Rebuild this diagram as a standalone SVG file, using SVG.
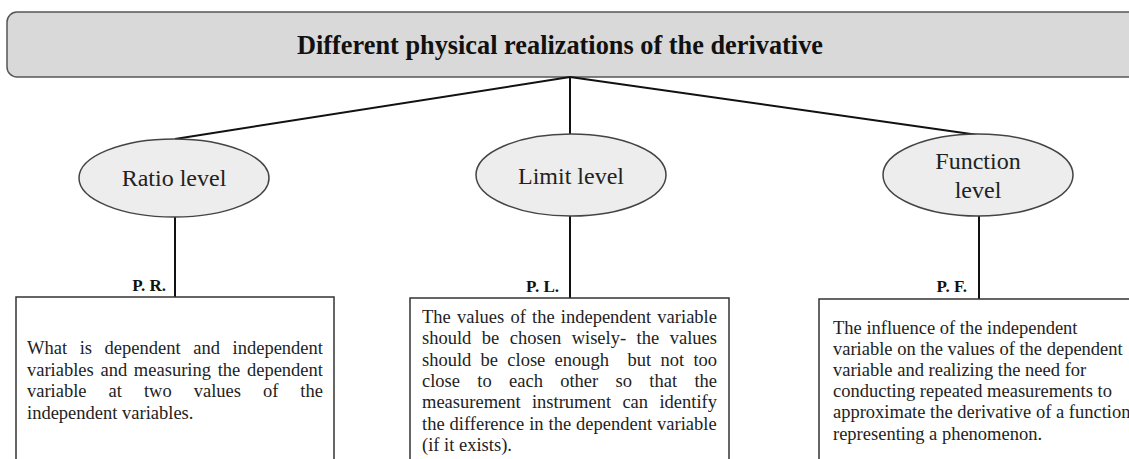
<svg xmlns="http://www.w3.org/2000/svg" width="1129" height="459" viewBox="0 0 1129 459">
<style>
.hdr{fill:#d9d9d9;stroke:#555;stroke-width:1.5}
.ell{fill:#ededed;stroke:#444;stroke-width:1.5}
.box{fill:#fff;stroke:#333;stroke-width:1.5}
.con{stroke:#111;stroke-width:2;fill:none}
.title{font-family:"Liberation Serif","Times New Roman",serif;font-weight:bold;font-size:28px;fill:#111}
.lvl{font-family:"Liberation Serif","Times New Roman",serif;font-size:24px;fill:#222;text-anchor:middle}
.lab{font-family:"Liberation Serif","Times New Roman",serif;font-weight:bold;font-size:17px;fill:#111;text-anchor:end}
.txt{font-family:"Liberation Serif","Times New Roman",serif;font-size:18.5px;fill:#222}
</style>
<rect width="1129" height="459" fill="#fff"/>
<g id="header">
<rect class="hdr" x="7" y="12" width="1140" height="65" rx="10"/>
<text class="title" x="297" y="54" textLength="526" lengthAdjust="spacingAndGlyphs">Different physical realizations of the derivative</text>
</g>
<g id="connectors">
<path class="con" d="M570 77 L175 139 M570 77 L570 134 M570 77 L978 135"/>
<path class="con" d="M175 217 V297 M570 216 V298 M979 216 V299"/>
</g>
<g id="ratio-level">
<ellipse class="ell" cx="174" cy="178" rx="95" ry="39"/>
<text class="lvl" x="174" y="186">Ratio level</text>
</g>
<g id="limit-level">
<ellipse class="ell" cx="571" cy="175" rx="95" ry="41"/>
<text class="lvl" x="571" y="184">Limit level</text>
</g>
<g id="function-level">
<ellipse class="ell" cx="978" cy="175" rx="95" ry="41"/>
<text class="lvl" x="978" y="169">Function</text>
<text class="lvl" x="978" y="198">level</text>
</g>
<g id="pr-box">
<text class="lab" x="166" y="291">P. R.</text>
<rect class="box" x="16" y="297" width="318" height="180"/>
<text class="txt" x="27" y="354" style="word-spacing:7.98px">What is dependent and independent</text>
<text class="txt" x="27" y="376" style="word-spacing:2.07px">variables and measuring the dependent</text>
<text class="txt" x="27" y="397" style="word-spacing:17.38px">variable at two values of the</text>
<text class="txt" x="27" y="419">independent variables.</text>
</g>
<g id="pl-box">
<text class="lab" x="559" y="292">P. L.</text>
<rect class="box" x="410" y="298" width="319" height="180"/>
<text class="txt" x="422" y="323" style="word-spacing:1.56px">The values of the independent variable</text>
<text class="txt" x="422" y="344.3" style="word-spacing:5.87px">should be chosen wisely- the values</text>
<text class="txt" y="365.6" style="word-spacing:4.63px"><tspan x="422">should be close enough</tspan><tspan x="627.6">but not too</tspan></text>
<text class="txt" x="422" y="386.9" style="word-spacing:12.69px">close to each other so that the</text>
<text class="txt" x="422" y="408.2" style="word-spacing:6.70px">measurement instrument can identify</text>
<text class="txt" x="422" y="429.5" style="word-spacing:0.33px">the difference in the dependent variable</text>
<text class="txt" x="422" y="450.8">(if it exists).</text>
</g>
<g id="pf-box">
<text class="lab" x="967" y="292">P. F.</text>
<rect class="box" x="819" y="299" width="330" height="180"/>
<text class="txt" x="833" y="334">The influence of the independent</text>
<text class="txt" x="833" y="355">variable on the values of the dependent</text>
<text class="txt" x="833" y="376">variable and realizing the need for</text>
<text class="txt" x="833" y="397">conducting repeated measurements to</text>
<text class="txt" x="833" y="418">approximate the derivative of a function</text>
<text class="txt" x="833" y="440">representing a phenomenon.</text>
</g>
</svg>
